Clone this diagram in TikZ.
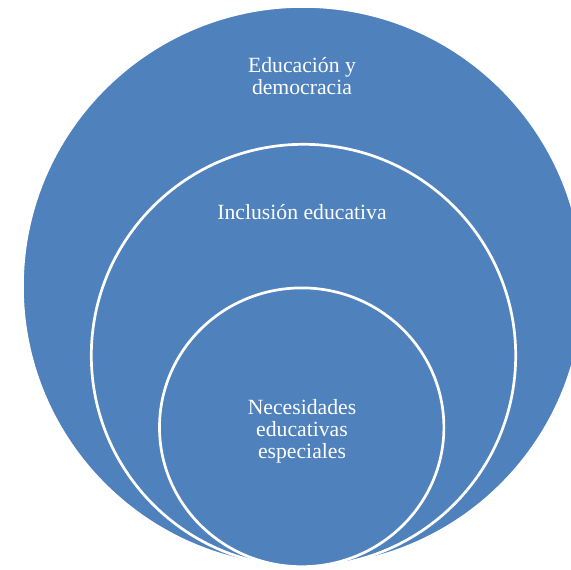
\documentclass[tikz,border=0pt]{standalone}
\usepackage{fontspec}
\setmainfont{Liberation Serif}
\usetikzlibrary{shapes.geometric}
\definecolor{vennblue}{HTML}{4F81BD}
\begin{document}
\begin{tikzpicture}[x=1pt,y=-1pt,
  venn/.style={ellipse,fill=vennblue,draw=white,line width=2.7pt,inner sep=0pt},
  lbl/.style={text=white,align=center,font=\fontsize{21.7}{22}\selectfont,inner sep=0pt}]
\useasboundingbox (0,0) rectangle (571,570);
\clip (0,0) rectangle (571,570);
\node[venn,minimum width=561.2pt,minimum height=560.2pt] (outer) at (303,286.5) {};
\node[venn,minimum width=424.4pt,minimum height=422.4pt] (middle) at (303.5,355.5) {};
\node[venn,minimum width=284.4pt,minimum height=278.8pt] (inner) at (301.7,427.3) {};
\node[lbl] (t1) at (302,76) {Educación y\\democracia};
\node[lbl] (t2) at (302,212) {Inclusión educativa};
\node[lbl] (t3) at (302,431) {Necesidades\\educativas\\especiales};
\end{tikzpicture}
\end{document}
